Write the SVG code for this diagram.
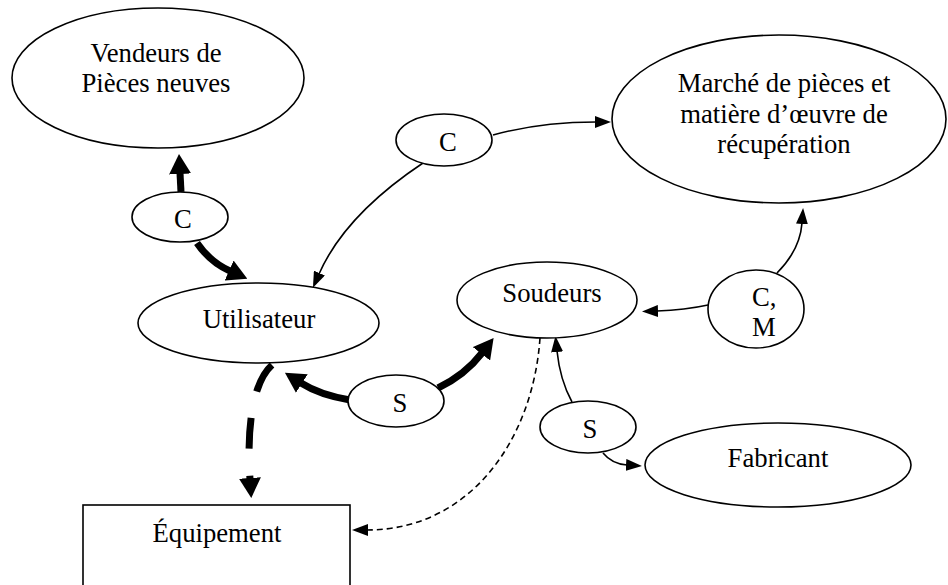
<svg xmlns="http://www.w3.org/2000/svg" width="948" height="585" viewBox="0 0 948 585">
<style>
.n{fill:#fff;stroke:#000;stroke-width:1.6}
.t{font-family:"Liberation Serif","Times New Roman",serif;font-size:26.7px;fill:#000;text-anchor:middle}
.thin{fill:none;stroke:#000;stroke-width:1.6}
.thick{fill:none;stroke:#000;stroke-width:7}
</style>
<defs>
<marker id="ah" markerUnits="userSpaceOnUse" markerWidth="16" markerHeight="12" refX="1" refY="6" orient="auto"><path d="M0,0 L16,6 L0,12 z" fill="#000"/></marker>
<marker id="ahb" markerUnits="userSpaceOnUse" markerWidth="20" markerHeight="22" refX="1" refY="11" orient="auto"><path d="M0,0 L20,11 L0,22 z" fill="#000"/></marker>
</defs>
<g id="connectors">
<path class="thin" d="M493,135 Q540,122 596,122" marker-end="url(#ah)"/>
<path class="thin" d="M423,163 Q345,215 319,274" marker-end="url(#ah)"/>
<path class="thick" d="M181,192 L180,173" marker-end="url(#ahb)"/>
<path class="thick" d="M197,243 Q210,262 230,271" marker-end="url(#ahb)"/>
<path class="thick" d="M350,400 Q320,395 301,383" marker-end="url(#ahb)"/>
<path class="thick" d="M438,388 Q465,375 482,353" marker-end="url(#ahb)"/>
<path class="thick" d="M272,365 C255,380 246,420 250,479" stroke-dasharray="31 27" marker-end="url(#ahb)"/>
<path class="thin" d="M708,305 Q685,310 657,311" marker-end="url(#ah)"/>
<path class="thin" d="M777,273 Q800,250 802,223" marker-end="url(#ah)"/>
<path class="thin" d="M572,402 Q560,380 557,351" marker-end="url(#ah)"/>
<path class="thin" d="M603,453 Q612,464 627,465" marker-end="url(#ah)"/>
<path class="thin" d="M540,338 C533,440 470,530 367,530" stroke-dasharray="6 4" marker-end="url(#ah)"/>
</g>
<g id="vendeurs"><ellipse class="n" cx="158" cy="78" rx="146" ry="70"/><text class="t" x="156" y="62">Vendeurs de</text><text class="t" x="156" y="92">Pièces neuves</text></g>
<g id="marche"><ellipse class="n" cx="779" cy="119" rx="167" ry="84"/><text class="t" x="784" y="92">Marché de pièces et</text><text class="t" x="784" y="123">matière d’œuvre de</text><text class="t" x="784" y="153">récupération</text></g>
<g id="c-top"><ellipse class="n" cx="444" cy="140" rx="48" ry="26"/><text class="t" x="448" y="151">C</text></g>
<g id="c-left"><ellipse class="n" cx="180" cy="217" rx="48" ry="25"/><text class="t" x="183" y="228">C</text></g>
<g id="utilisateur"><ellipse class="n" cx="258.5" cy="323" rx="120.5" ry="40"/><text class="t" x="259" y="328">Utilisateur</text></g>
<g id="soudeurs"><ellipse class="n" cx="547" cy="300" rx="90" ry="38"/><text class="t" x="552" y="302">Soudeurs</text></g>
<g id="cm"><ellipse class="n" cx="756" cy="309" rx="48" ry="39"/><text class="t" x="752" y="306" style="text-anchor:start">C,</text><text class="t" x="752" y="336" style="text-anchor:start">M</text></g>
<g id="s-mid"><ellipse class="n" cx="396" cy="401" rx="48" ry="26"/><text class="t" x="400" y="412">S</text></g>
<g id="s-low"><ellipse class="n" cx="588" cy="427" rx="48" ry="26"/><text class="t" x="590" y="438">S</text></g>
<g id="fabricant"><ellipse class="n" cx="778" cy="465" rx="133" ry="42"/><text class="t" x="778" y="467">Fabricant</text></g>
<g id="equipement"><rect class="n" x="83" y="505" width="267" height="90"/><text class="t" x="217" y="542">Équipement</text></g>
</svg>
